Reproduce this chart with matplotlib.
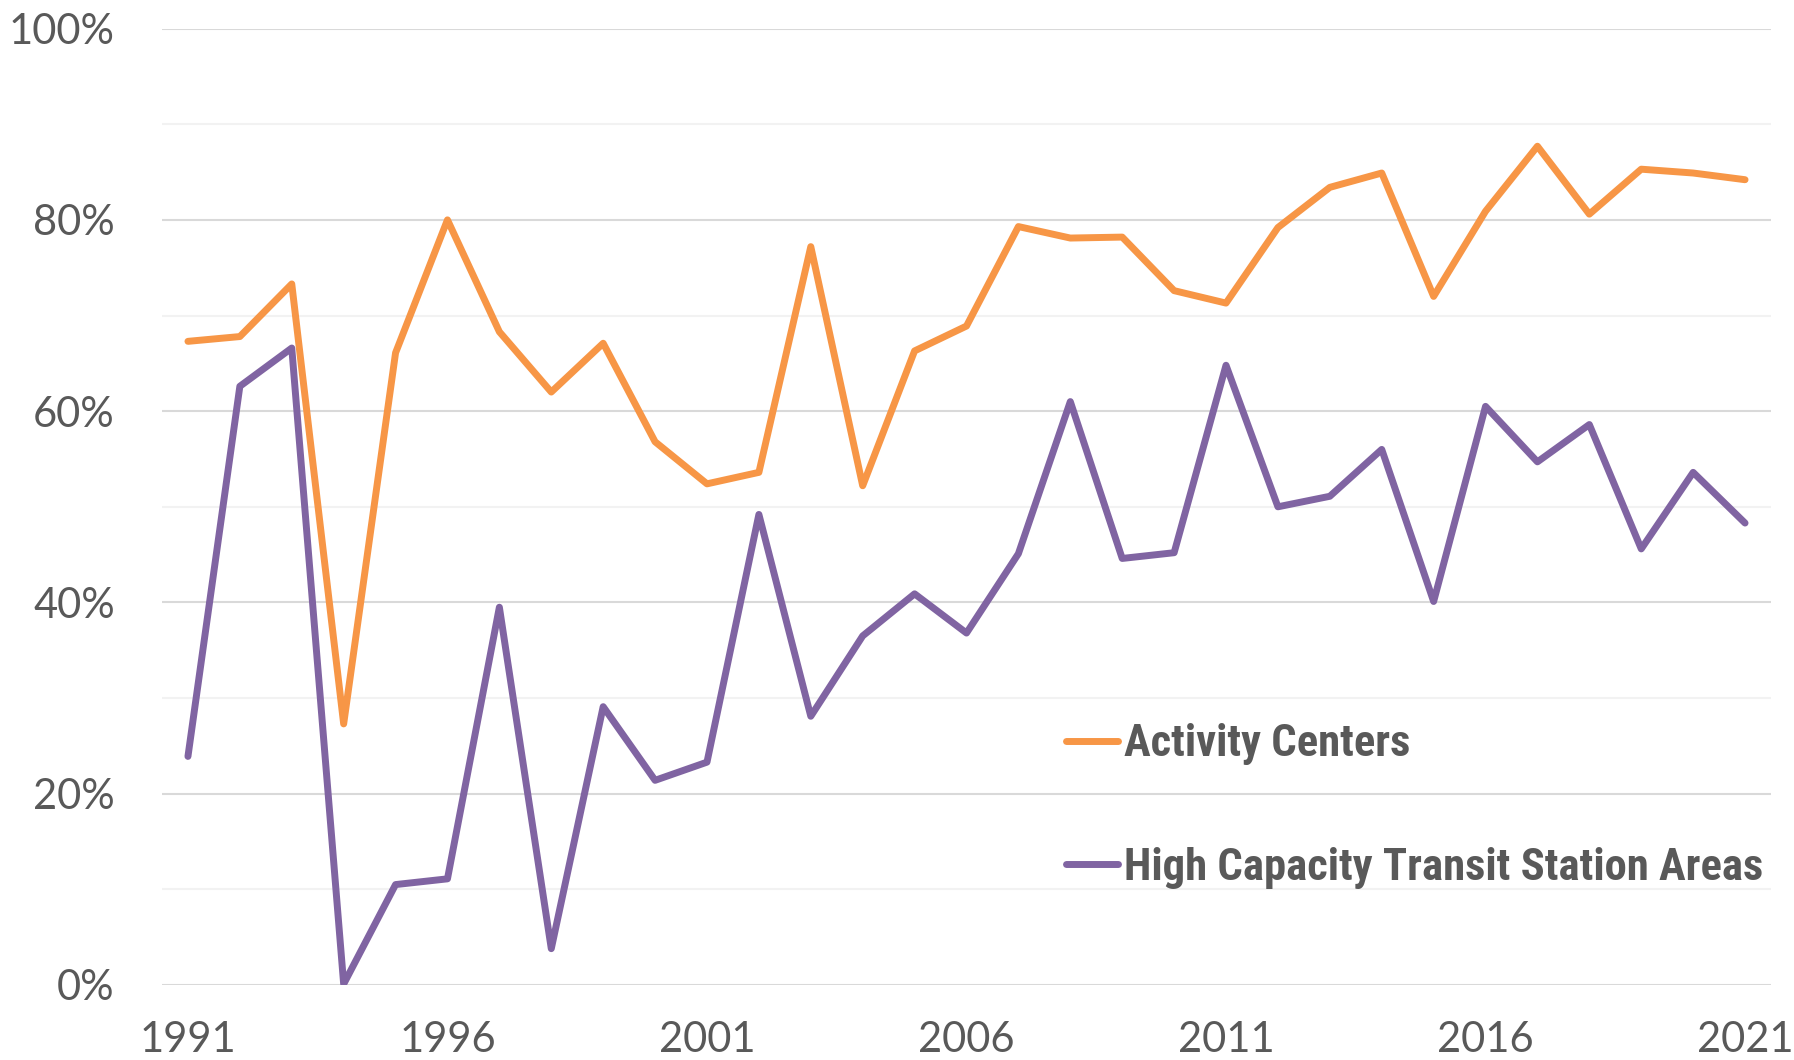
import matplotlib.pyplot as plt
from matplotlib import font_manager
from matplotlib.ticker import MultipleLocator, FuncFormatter

# share of values per year (percent)
years = list(range(1991, 2022))
activity_centers = [67.3, 67.8, 73.3, 27.3, 66.1, 80.0, 68.3, 62.0, 67.1, 56.8,
                    52.4, 53.6, 77.2, 52.2, 66.3, 68.9, 79.3, 78.1, 78.2, 72.6,
                    71.3, 79.2, 83.4, 84.9, 72.0, 80.9, 87.7, 80.6, 85.3, 84.9,
                    84.2]
hct_station_areas = [23.9, 62.6, 66.6, 0.1, 10.5, 11.1, 39.5, 3.8, 29.1, 21.4,
                     23.3, 49.2, 28.1, 36.5, 40.9, 36.8, 45.1, 61.0, 44.6, 45.2,
                     64.8, 50.0, 51.1, 56.0, 40.1, 60.5, 54.7, 58.6, 45.6, 53.6,
                     48.3]
series_names = ["Activity Centers", "High Capacity Transit Station Areas"]
xtick_years = [1991, 1996, 2001, 2006, 2011, 2016, 2021]

orange = "#F79646"
purple = "#8064A2"
grey = "#595959"

# legend wants a condensed bold face, take whatever is installed
fonts = font_manager.fontManager.ttflist
leg_family, leg_stretch = "DejaVu Sans", "normal"
for fam, st in [("Liberation Sans Narrow", "normal"), ("Roboto Condensed", "normal"),
                ("Open Sans Condensed", "normal"), ("DejaVu Sans", "condensed"),
                ("Noto Sans", "condensed"), ("Roboto", "condensed"), ("Open Sans", "condensed")]:
    hit = [f for f in fonts if f.name == fam and (st == "normal" or f.stretch in ("condensed", "semi-condensed", 87.5, 75))]
    if hit:
        leg_family, leg_stretch = fam, st
        break

fig = plt.figure(figsize=(17.94, 10.60), dpi=100)
ax = fig.add_axes([162/1794, 1-985/1060, (1771-162)/1794, (985-28.6)/1060])

ax.plot(years, activity_centers, color=orange, lw=5, solid_capstyle="round",
        solid_joinstyle="round", label=series_names[0], zorder=3)
ax.plot(years, hct_station_areas, color=purple, lw=5, solid_capstyle="round",
        solid_joinstyle="round", label=series_names[1], zorder=3)

ax.set_xlim(1990.5, 2021.5)
ax.set_ylim(0, 100)
ax.yaxis.set_major_locator(MultipleLocator(20))
ax.yaxis.set_minor_locator(MultipleLocator(10))
ax.yaxis.set_major_formatter(FuncFormatter(lambda v, p: f"{v:.0f}%"))
ax.set_xticks(xtick_years)
ax.grid(axis="y", which="major", color="#D9D9D9", lw=1.5, zorder=0)
ax.grid(axis="y", which="minor", color="#F2F2F2", lw=1.5, zorder=0)
ax.set_axisbelow(True)
for s in ax.spines.values():
    s.set_visible(False)
ax.tick_params(axis="both", which="both", length=0)
ax.tick_params(axis="y", pad=34)
ax.tick_params(axis="x", pad=26)
for lab in ax.get_xticklabels() + ax.get_yticklabels():
    lab.set_family("Lato")
    lab.set_fontsize(30)
    lab.set_color(grey)

# size the legend font so the long label is about as wide as in the original (~639 px)
renderer = fig.canvas.get_renderer()
probe = fig.text(0, 0, series_names[1], family=leg_family, stretch=leg_stretch,
                 weight="bold", size=33)
w = probe.get_window_extent(renderer).width
probe.remove()
leg_size = min(33, 33 * 639 / w)
em = leg_size * 100 / 72

leg = ax.legend(loc="center left", bbox_to_anchor=(1066/1794, 1-806/1060),
                bbox_transform=fig.transFigure, frameon=False, borderpad=0,
                borderaxespad=0, handlelength=52 / em, handletextpad=6 / em,
                labelspacing=(133 - em * 1.15) / em,
                prop={"family": leg_family, "stretch": leg_stretch, "weight": "bold",
                      "size": leg_size})
for t in leg.get_texts():
    t.set_color(grey)
for h in leg.get_lines():
    h.set_linewidth(5)
    h.set_solid_capstyle("round")

fig.savefig("out.png", dpi=100)
